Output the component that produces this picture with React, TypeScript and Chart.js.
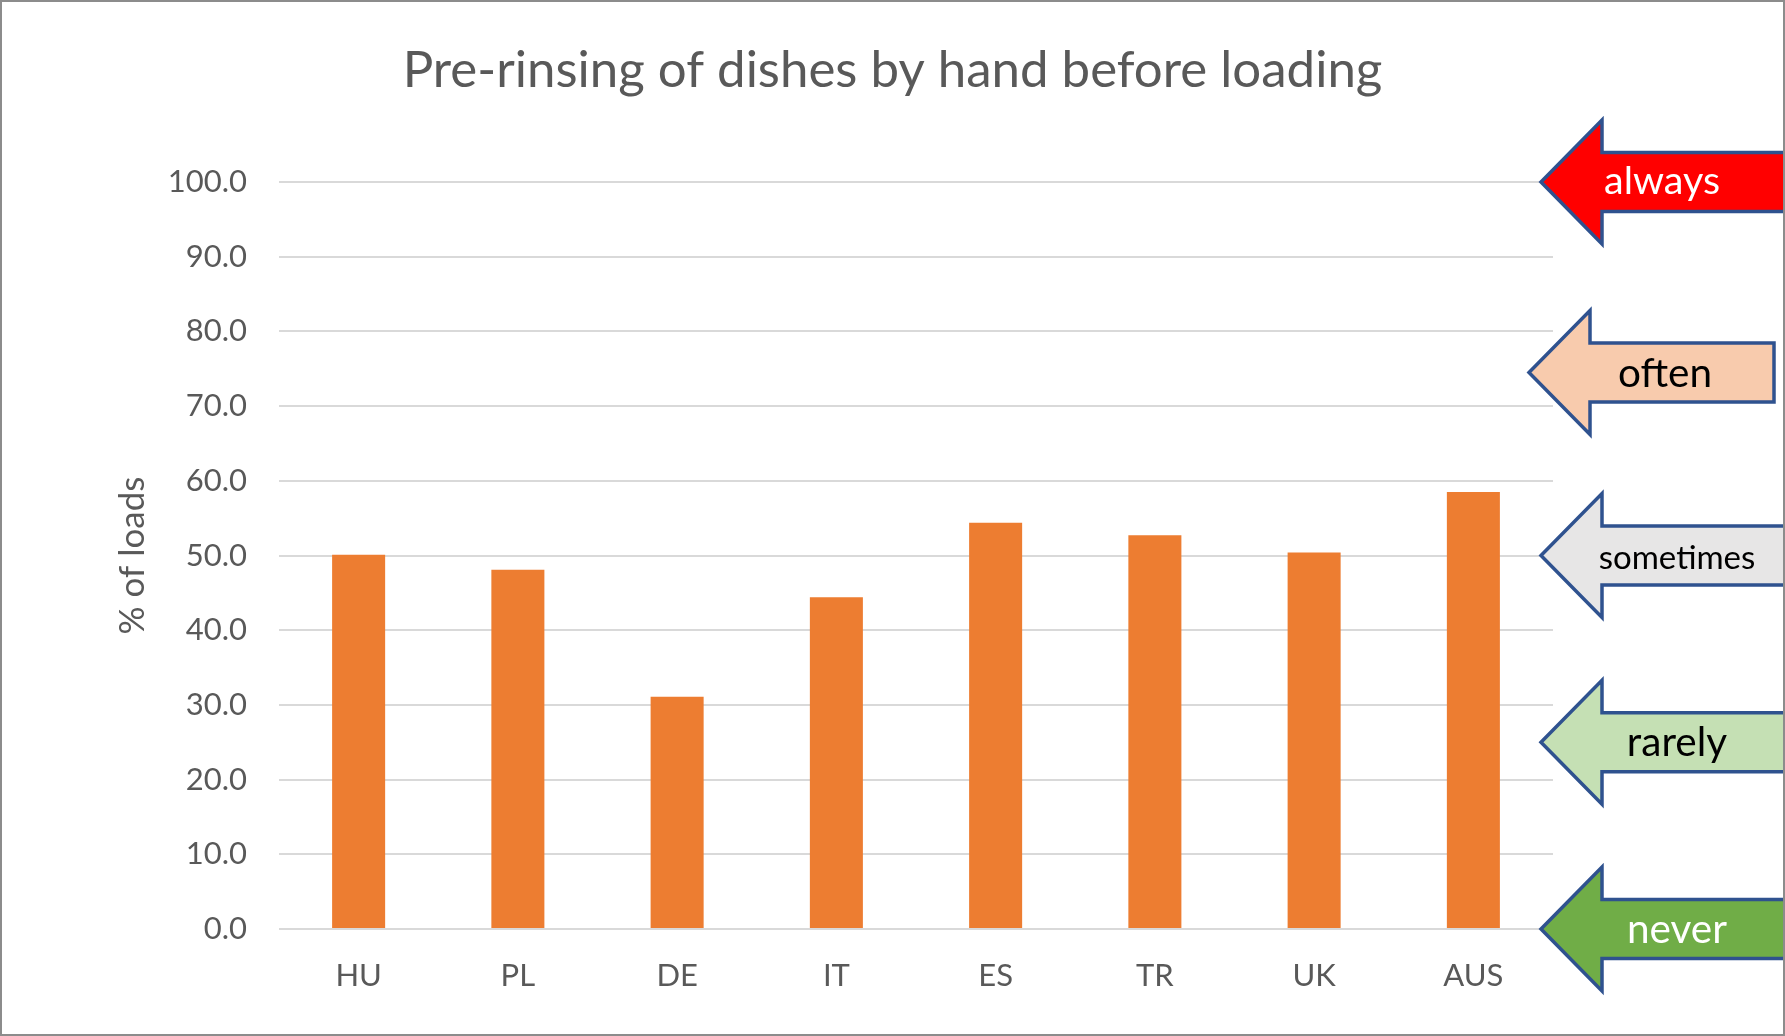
import React, { useEffect, useRef } from "react";
import { Chart, registerables } from "chart.js";

Chart.register(...registerables);

const categories = ["HU", "PL", "DE", "IT", "ES", "TR", "UK", "AUS"];
const values = [50.1, 48.1, 31.1, 44.4, 54.4, 52.7, 50.4, 58.5];
const titleText = "Pre-rinsing of dishes by hand before loading";
const yAxisTitle = "% of loads";

// right-hand frequency arrows: label, level on the y axis, fill, text colour
const arrowLabels = ["always", "often", "sometimes", "rarely", "never"];
const arrowLevels = [100, 74.5, 50, 25, 0];
const arrowFills = ["#FF0000", "#F8CBAD", "#E7E6E6", "#C5E0B4", "#70AD47"];
const arrowTextColors = ["#FFFFFF", "#000000", "#000000", "#000000", "#FFFFFF"];

const FONT = "Lato, 'Open Sans', sans-serif";

const arrowPlugin = {
  id: "arrowPlugin",
  afterDraw(chart: any) {
    const ctx = chart.ctx as CanvasRenderingContext2D;
    const y = chart.scales.y;
    const area = chart.chartArea;
    ctx.save();
    arrowLabels.forEach((label, i) => {
      const cy = y.getPixelForValue(arrowLevels[i]);
      const isOften = label === "often";
      const tipX = area.right - (isOften ? 24 : 12);
      const baseX = tipX + 61;
      const headH = 62;
      const bodyH = 29.5;
      const endX = isOften ? tipX + 245 : chart.width + 20;
      ctx.beginPath();
      ctx.moveTo(tipX, cy);
      ctx.lineTo(baseX, cy - headH);
      ctx.lineTo(baseX, cy - bodyH);
      ctx.lineTo(endX, cy - bodyH);
      ctx.lineTo(endX, cy + bodyH);
      ctx.lineTo(baseX, cy + bodyH);
      ctx.lineTo(baseX, cy + headH);
      ctx.closePath();
      ctx.fillStyle = arrowFills[i];
      ctx.fill();
      ctx.lineWidth = 3.5;
      ctx.lineJoin = "miter";
      ctx.strokeStyle = "#2F528F";
      ctx.stroke();
      const size = label === "sometimes" ? 33 : label === "always" ? 39.5 : 40.5;
      ctx.font = `${size}px ${FONT}`;
      ctx.fillStyle = arrowTextColors[i];
      ctx.textAlign = "center";
      ctx.textBaseline = "middle";
      const offs = label === "always" ? 121 : 136;
      const dy = label === "always" ? -1 : label === "sometimes" ? 3 : 1;
      ctx.fillText(label, tipX + offs, cy + dy);
    });
    // outer frame
    ctx.strokeStyle = "#8C8C8C";
    ctx.lineWidth = 2;
    ctx.strokeRect(1, 1, chart.width - 2, chart.height - 2);
    ctx.restore();
  },
};

export default function App() {
  const ref = useRef<HTMLCanvasElement | null>(null);

  useEffect(() => {
    document.body.style.margin = "0";
    const canvas = ref.current;
    if (!canvas) return;
    const chart = new Chart(canvas, {
      type: "bar",
      data: {
        labels: categories,
        datasets: [
          {
            data: values,
            backgroundColor: "#ED7D31",
            borderWidth: 0,
            categoryPercentage: 1,
            barPercentage: 0.333,
          },
        ],
      },
      options: {
        responsive: false,
        animation: false,
        devicePixelRatio: 1,
        layout: { padding: 0 },
        plugins: {
          legend: { display: false },
          tooltip: { enabled: false },
          title: {
            display: true,
            text: titleText,
            color: "#595959",
            font: { family: FONT, size: 51, weight: "normal" },
            padding: { top: 39.5, bottom: 81.3 },
          },
        },
        scales: {
          x: {
            grid: { display: false, drawTicks: false },
            border: { display: false },
            ticks: {
              color: "#595959",
              font: { family: FONT, size: 31 },
              padding: 28.5,
              maxRotation: 0,
            },
            afterFit: (scale: any) => {
              scale.height = 107;
            },
          },
          y: {
            min: 0,
            max: 100,
            grid: { color: "#D9D9D9", lineWidth: 2, drawTicks: false },
            border: { display: false },
            ticks: {
              stepSize: 10,
              color: "#595959",
              font: { family: FONT, size: 31 },
              padding: 32,
              callback: (v: any) => Number(v).toFixed(1),
            },
            title: {
              display: true,
              text: yAxisTitle,
              color: "#595959",
              font: { family: FONT, size: 35 },
              padding: { top: 112, bottom: 4 },
            },
            afterFit: (scale: any) => {
              scale.width = 279;
            },
          },
          side: {
            type: "linear",
            position: "right",
            display: true,
            grid: { display: false, drawTicks: false },
            border: { display: false },
            ticks: { display: false },
            afterFit: (scale: any) => {
              scale.width = 232;
            },
          },
        },
      },
      plugins: [arrowPlugin],
    });
    return () => chart.destroy();
  }, []);

  return (
    <div style={{ width: 1785, height: 1036, background: "#FFFFFF" }}>
      <canvas ref={ref} width={1785} height={1036} style={{ display: "block" }} />
    </div>
  );
}
